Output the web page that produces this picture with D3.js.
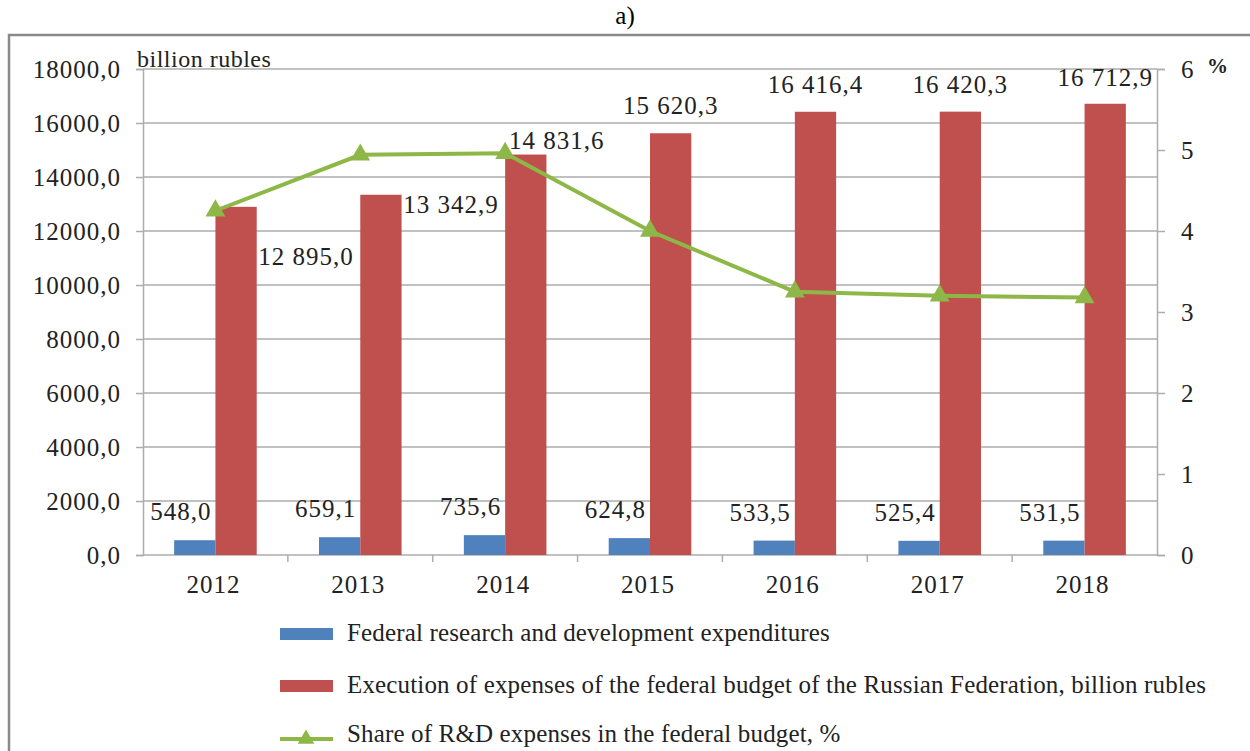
<!DOCTYPE html>
<html><head><meta charset="utf-8">
<script src="https://cdn.jsdelivr.net/npm/d3@7"></script>
<style>body{margin:0;background:#fff;} svg{display:block;} text{font-family:"Liberation Serif",serif;}</style>
</head><body>
<script>
const years = ["2012","2013","2014","2015","2016","2017","2018"];
const rdExpenses = [548.0, 659.1, 735.6, 624.8, 533.5, 525.4, 531.5];
const budgetExpenses = [12895.0, 13342.9, 14831.6, 15620.3, 16416.4, 16420.3, 16712.9];
const sharePct = [4.25, 4.94, 4.96, 4.00, 3.25, 3.20, 3.18];
const rdLabels = ["548,0","659,1","735,6","624,8","533,5","525,4","531,5"];
const budgetLabels = ["12 895,0","13 342,9","14 831,6","15 620,3","16 416,4","16 420,3","16 712,9"];
const leftTicks = [0,2000,4000,6000,8000,10000,12000,14000,16000,18000];
const rightTicks = [0,1,2,3,4,5,6];
const legendItems = ["Federal research and development expenditures",
  "Execution of expenses of the federal budget of the Russian Federation, billion rubles",
  "Share of R&D expenses in the federal budget, %"];

const W=1250,H=751;
const FF="'Liberation Serif', serif";
const svg=d3.select("body").append("svg").attr("width",W).attr("height",H).attr("font-family",FF);
const L=143,R=1157,T=69,B=555;
const x=d3.scaleBand().domain(years).range([L,R]);
const yL=d3.scaleLinear().domain([0,18000]).range([B,T]);
const yR=d3.scaleLinear().domain([0,6]).range([B,T]);
const blue="#4F81BD",red="#C0504D",green="#8DB746",grid="#ADADAD",txt="#222";
const fs=25, ls=1;

svg.append("text").attr("x",625).attr("y",24).attr("text-anchor","middle").attr("font-size",25).attr("fill","#000").text("a)");
svg.append("rect").attr("x",9).attr("y",35).attr("width",1280).attr("height",760).attr("fill","none").attr("stroke","#8a8a8a").attr("stroke-width",2.5);

// gridlines
svg.append("g").selectAll("line").data(leftTicks.slice(1)).join("line")
 .attr("x1",L).attr("x2",R).attr("y1",d=>yL(d)).attr("y2",d=>yL(d)).attr("stroke",grid).attr("stroke-width",1.5);

// left axis
const gl=svg.append("g").attr("transform",`translate(${L},0)`)
 .call(d3.axisLeft(yL).tickValues(leftTicks).tickSize(7).tickPadding(15).tickFormat(d=>d3.format(".1f")(d).replace(".",",")));
gl.attr("font-family",FF);
gl.selectAll("text").attr("font-size",fs).attr("letter-spacing",ls).attr("fill",txt);
gl.selectAll("line,path").attr("stroke",grid).attr("stroke-width",1.5);

// right axis
const gr=svg.append("g").attr("transform",`translate(${R},0)`)
 .call(d3.axisRight(yR).tickValues(rightTicks).tickSize(8).tickPadding(16).tickFormat(d3.format("d")));
gr.attr("font-family",FF);
gr.selectAll("text").attr("font-size",fs).attr("fill",txt);
gr.selectAll("line,path").attr("stroke",grid).attr("stroke-width",1.5);

// x axis
svg.append("line").attr("x1",L).attr("x2",R).attr("y1",B).attr("y2",B).attr("stroke",grid).attr("stroke-width",1.5);
svg.append("g").selectAll("line").data(years.slice(1)).join("line")
 .attr("x1",d=>x(d)).attr("x2",d=>x(d)).attr("y1",B).attr("y2",B+7).attr("stroke",grid).attr("stroke-width",1.5);
svg.append("g").selectAll("text").data(years).join("text")
 .attr("x",d=>x(d)+x.bandwidth()/2-2).attr("y",B+38).attr("text-anchor","middle").attr("font-size",fs).attr("letter-spacing",ls).attr("fill",txt).text(d=>d);

const bw=x.bandwidth()*0.285;
const cx=d=>x(d)+x.bandwidth()/2;
svg.append("g").selectAll("rect").data(years).join("rect")
 .attr("x",d=>cx(d)-bw).attr("width",bw).attr("y",(d,i)=>yL(rdExpenses[i])).attr("height",(d,i)=>B-yL(rdExpenses[i])).attr("fill",blue);
svg.append("g").selectAll("rect").data(years).join("rect")
 .attr("x",d=>cx(d)).attr("width",bw).attr("y",(d,i)=>yL(budgetExpenses[i])).attr("height",(d,i)=>B-yL(budgetExpenses[i])).attr("fill",red);

// labels
svg.append("g").selectAll("text").data(years).join("text")
 .attr("x",d=>cx(d)-bw/2-14).attr("y",(d,i)=>yL(rdExpenses[i])-20).attr("text-anchor","middle")
 .attr("font-size",fs).attr("letter-spacing",ls).attr("fill",txt).text((d,i)=>rdLabels[i]);
const bOff=[[70,58],[70,18],[31,-6],[0,-19],[0,-19],[0,-19],[0,-18]];
svg.append("g").selectAll("text").data(years).join("text")
 .attr("x",(d,i)=>cx(d)+bw/2+bOff[i][0]).attr("y",(d,i)=>yL(budgetExpenses[i])+bOff[i][1]).attr("text-anchor","middle")
 .attr("font-size",fs).attr("letter-spacing",ls).attr("fill",txt).text((d,i)=>budgetLabels[i]);

// line
const line=d3.line().x((d,i)=>cx(years[i])).y(d=>yR(d));
svg.append("path").datum(sharePct).attr("d",line).attr("fill","none").attr("stroke",green).attr("stroke-width",4);
const tri=d3.symbol().type(d3.symbolTriangle).size(170);
svg.append("g").selectAll("path").data(sharePct).join("path")
 .attr("transform",(d,i)=>`translate(${cx(years[i])},${yR(d)})`).attr("d",tri).attr("fill",green);

// unit labels
svg.append("text").attr("x",137).attr("y",67).attr("font-size",24).attr("letter-spacing",0.5).attr("fill",txt).text("billion rubles");
svg.append("text").attr("x",1207).attr("y",73).attr("font-size",21).attr("font-weight","bold").attr("fill",txt).text("%");

// legend
const ly=[634,686,739];
const lg=svg.append("g");
legendItems.forEach((t,i)=>{
  if(i<2){
    lg.append("rect").attr("x",280).attr("y",ly[i]-6).attr("width",53).attr("height",12).attr("fill",i==0?blue:red);
  } else {
    lg.append("line").attr("x1",280).attr("x2",333).attr("y1",ly[i]).attr("y2",ly[i]).attr("stroke",green).attr("stroke-width",4);
    lg.append("path").attr("transform",`translate(306,${ly[i]})`).attr("d",d3.symbol().type(d3.symbolTriangle).size(120)).attr("fill",green);
  }
  lg.append("text").attr("x",347).attr("y",i<2?ly[i]+7:ly[i]+3).attr("font-size",25).attr("letter-spacing",0.15).attr("fill",txt).text(t);
});
</script>
</body></html>
